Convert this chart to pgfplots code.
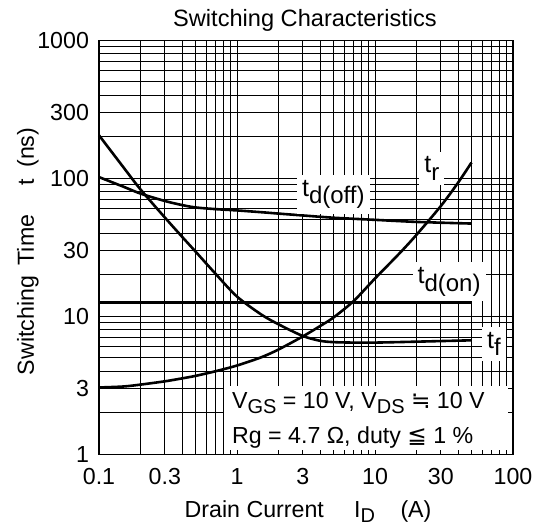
\documentclass[border=0pt]{standalone}
\usepackage{fontspec}
\setmainfont{Liberation Sans}
\newfontfamily\djv{DejaVu Sans}
\usepackage{pgfplots}
\pgfplotsset{compat=1.18}
\newcommand{\fs}[1]{\fontsize{#1}{#1}\selectfont}
\newcommand{\lsub}[1]{\raisebox{-0.3em}{\fs{12}#1}}
\newcommand{\csub}[1]{\raisebox{-0.22em}{\fs{10}#1}}

\begin{document}
\begin{tikzpicture}
\path[use as bounding box] (0,0) rectangle (270pt,263.5pt);
\begin{axis}[
  at={(49.5pt,36.35pt)}, anchor=south west,
  scale only axis, width=207pt, height=207pt,
  xmode=log, ymode=log,
  xmin=0.1, xmax=100, ymin=1, ymax=1000,
  xtick={0.1,0.2,0.3,0.4,0.5,0.6,0.7,0.8,0.9,1,2,3,4,5,6,7,8,9,10,20,30,40,50,60,70,80,90,100},
  xticklabels={0.1,,0.3,,,,,,,1,,3,,,,,,,10,,30,,,,,,,100},
  ytick={1,2,3,4,5,6,7,8,9,10,20,30,40,50,60,70,80,90,100,200,300,400,500,600,700,800,900,1000},
  yticklabels={1,,3,,,,,,,10,,30,,,,,,,100,,300,,,,,,,1000},
  grid=major,
  major grid style={black, line width=0.45pt},
  major tick length=0pt,
  axis line style={line width=0.7pt},
  tick label style={font=\fs{11.6}},
  xticklabel style={yshift=-3.5pt},
  yticklabel style={xshift=-1.5pt},
  clip=false,
]
% t_d(off)
\addplot[black, line width=1.3pt, smooth] coordinates {
 (0.1,102) (0.15,87) (0.2,77.5) (0.3,68.5) (0.4,64) (0.5,61.5) (0.7,59.8)
 (1,58.5) (1.5,56.8) (2,55.5) (3,53.8) (5,51.8) (10,50) (20,48.3) (50,47)};
% t_f
\addplot[black, line width=1.3pt, smooth] coordinates {
 (0.1,205) (0.15,120.5) (0.2,83) (0.3,52) (0.4,37.7) (0.5,29.5) (0.7,20.3)
 (1,13.9) (1.5,10.3) (2,8.75) (3,7.2) (4,6.65) (5,6.5) (7,6.45)
 (10,6.45) (20,6.55) (50,6.7)};
% t_r
\addplot[black, line width=1.3pt, smooth] coordinates {
 (0.1,3.05) (0.15,3.1) (0.2,3.2) (0.3,3.38) (0.4,3.55) (0.5,3.7) (0.7,4.0)
 (1,4.4) (1.5,5.05) (2,5.75) (3,7.15) (4,8.5) (5,9.8) (7,12.9) (10,18.8)
 (15,28.5) (20,39) (30,63) (40,93) (50,130)};
% t_d(on)
\addplot[black, line width=1.3pt] coordinates {(0.1,12.6) (50,12.6)};

% condition box
\fill[white] (axis cs:0.805,1.075) rectangle (axis cs:92,3.13);
\node[anchor=base west, inner sep=0, font=\fs{11.6}] at (axis cs:0.915,2.15)
  {V\csub{GS} = 10 V, V\csub{DS} {\djv ≒} 10 V};
\node[anchor=base west, inner sep=0, font=\fs{11.6}] at (axis cs:0.915,1.20)
  {Rg = 4.7 Ω, duty {\djv ≦} 1 \%};

% curve labels
\node[fill=white, inner sep=2.5pt, font=\fs{12.5}] at (axis cs:25.8,118) {t\lsub{r}};
\node[fill=white, inner sep=2.5pt, font=\fs{12.5}] at (axis cs:4.99,76.7) {t\lsub{d(off)}};
\node[fill=white, inner sep=2.5pt, font=\fs{12.5}] at (axis cs:34.4,17.8) {t\lsub{d(on)}};
\node[fill=white, inner sep=2.5pt, font=\fs{12.5}] at (axis cs:72.8,6.29) {t\lsub{f}};

% titles and axis labels
\node[anchor=base, font=\fs{11.8}, yshift=7pt] at (rel axis cs:0.4976,1) {Switching Characteristics};
\node[anchor=base, font=\fs{11.6}, yshift=-31.5pt] at (rel axis cs:0.505,0)
  {Drain Current\hspace{1.3em}I\csub{D}\hspace{1.1em}(A)};
\node[rotate=90, anchor=center, font=\fs{11.6}] at (rel axis cs:-0.172,0.49)
  {Switching\hspace{0.45em}Time\hspace{1.25em}t\hspace{0.5em}(ns)};
\end{axis}
\end{tikzpicture}
\end{document}
